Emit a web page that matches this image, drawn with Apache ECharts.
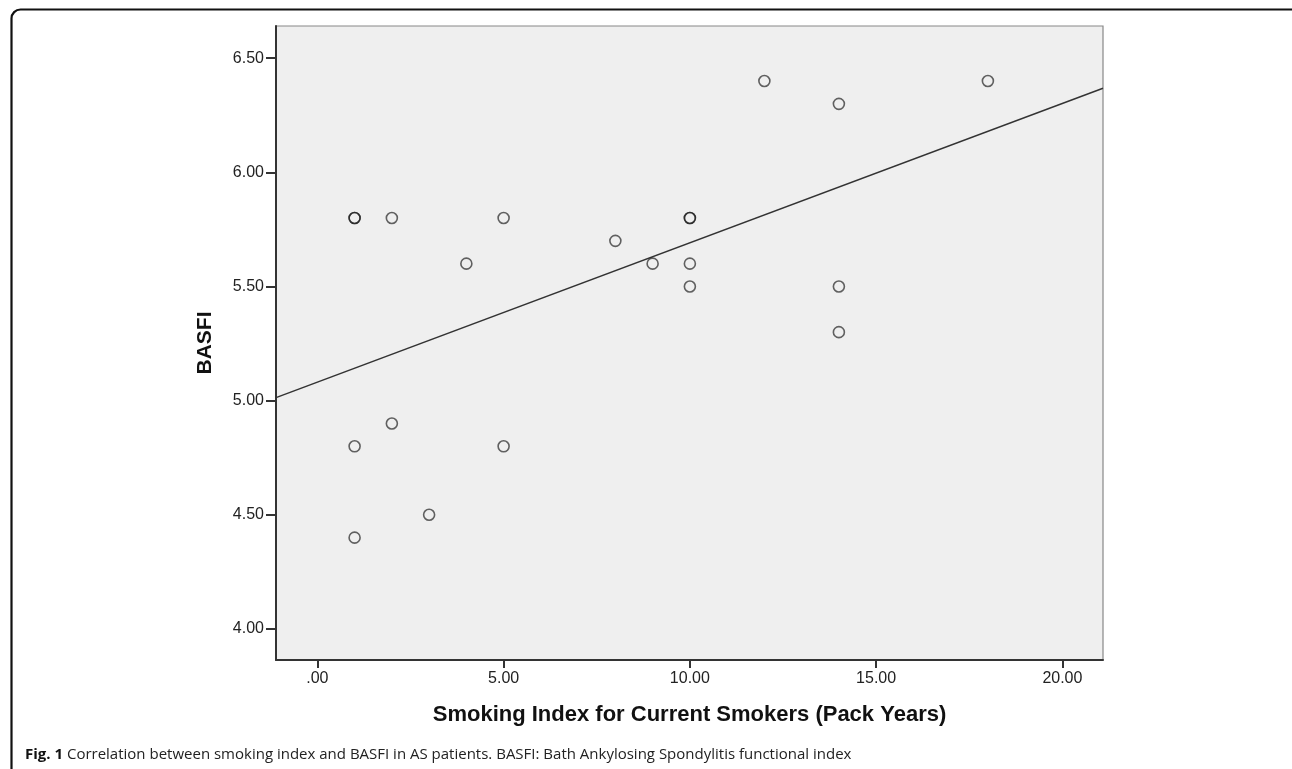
<!DOCTYPE html>
<html>
<head>
<meta charset="utf-8">
<script src="https://cdn.jsdelivr.net/npm/echarts@6/dist/echarts.min.js"></script>
<style>
html,body{margin:0;padding:0;background:#fff;}
#chart{width:1292px;height:769px;}
</style>
</head>
<body>
<div id="chart"></div>
<script>
// Data: smoking index (pack years) vs BASFI
const smokingIndex = [1, 1, 1, 1, 2, 2, 3, 4, 5, 5, 8, 9, 10, 10, 10, 10, 12, 14, 14, 14, 18];
const basfi        = [5.8, 5.8, 4.8, 4.4, 5.8, 4.9, 4.5, 5.6, 5.8, 4.8, 5.7, 5.6, 5.8, 5.8, 5.6, 5.5, 6.4, 6.3, 5.5, 5.3, 6.4];
const xTicks = [0, 5, 10, 15, 20];
const yTicks = [4.0, 4.5, 5.0, 5.5, 6.0, 6.5];
const xTitle = 'Smoking Index for Current Smokers (Pack Years)';
const yTitle = 'BASFI';
const captionBold = 'Fig. 1';
const captionText = ' Correlation between smoking index and BASFI in AS patients. BASFI: Bath Ankylosing Spondylitis functional index';

// axis ranges (plot frame extents)
const xMin = -1.11, xMax = 21.09;
const yMin = 3.864, yMax = 6.641;

// least-squares fit line from the points
const n = smokingIndex.length;
const mx = smokingIndex.reduce((a, b) => a + b, 0) / n;
const my = basfi.reduce((a, b) => a + b, 0) / n;
let sxy = 0, sxx = 0;
for (let i = 0; i < n; i++) {
  sxy += (smokingIndex[i] - mx) * (basfi[i] - my);
  sxx += (smokingIndex[i] - mx) * (smokingIndex[i] - mx);
}
const slope = sxy / sxx;
const intercept = my - slope * mx;
const fitLine = [[xMin, intercept + slope * xMin], [xMax, intercept + slope * xMax]];

const points = smokingIndex.map((x, i) => [x, basfi[i]]);

const chart = echarts.init(document.getElementById('chart'), null, {renderer: 'canvas'});
const font = '"Liberation Sans", Arial, sans-serif';

chart.setOption({
  animation: false,
  backgroundColor: '#ffffff',
  grid: {
    left: 276, top: 26, right: 189, bottom: 109,
    show: true, backgroundColor: '#efefef', borderColor: '#888', borderWidth: 1.2
  },
  xAxis: {
    type: 'value', min: xMin, max: xMax,
    splitLine: {show: false},
    axisLine: {show: true, onZero: false, lineStyle: {color: '#333', width: 2}},
    axisTick: {show: true, length: 8, customValues: xTicks, lineStyle: {color: '#333', width: 2}},
    axisLabel: {
      customValues: xTicks, margin: 11, color: '#222', fontSize: 16, fontFamily: font,
      formatter: v => v === 0 ? '.00' : v.toFixed(2)
    },
    name: xTitle, nameLocation: 'middle', nameGap: 44,
    nameTextStyle: {color: '#111', fontSize: 22, fontWeight: 'bold', fontFamily: font}
  },
  yAxis: {
    type: 'value', min: yMin, max: yMax,
    splitLine: {show: false},
    axisLine: {show: true, onZero: false, lineStyle: {color: '#333', width: 2}},
    axisTick: {show: true, length: 10, customValues: yTicks, lineStyle: {color: '#333', width: 2}},
    axisLabel: {
      customValues: yTicks, margin: 12, color: '#222', fontSize: 16, fontFamily: font,
      formatter: v => v.toFixed(2)
    },
    name: yTitle, nameLocation: 'middle', nameGap: 60, nameRotate: 90,
    nameTextStyle: {color: '#111', fontSize: 21, fontWeight: 'bold', fontFamily: font}
  },
  series: [
    {
      type: 'line', data: fitLine, symbol: 'none', silent: true, z: 2,
      lineStyle: {color: '#333', width: 1.5}
    },
    {
      type: 'scatter', data: points, symbol: 'circle', symbolSize: 11, z: 3,
      itemStyle: {color: 'rgba(0,0,0,0)', borderColor: 'rgba(20,20,20,0.82)', borderWidth: 1.6}
    }
  ],
  graphic: [
    {
      type: 'rect', left: 9, top: 7, silent: true,
      shape: {x: 0, y: 0, width: 1300, height: 800, r: 9},
      style: {fill: 'none', stroke: '#111', lineWidth: 2.2}
    },
    {
      type: 'text', left: 25, top: 747, silent: true,
      style: {
        text: '{b|' + captionBold + '}{r|' + captionText + '}',
        rich: {
          b: {fontFamily: '"Open Sans", sans-serif', fontWeight: 'bold', fontSize: 15, fill: '#111'},
          r: {fontFamily: '"Open Sans", sans-serif', fontSize: 15, fill: '#222'}
        }
      }
    }
  ]
});
</script>
</body>
</html>
